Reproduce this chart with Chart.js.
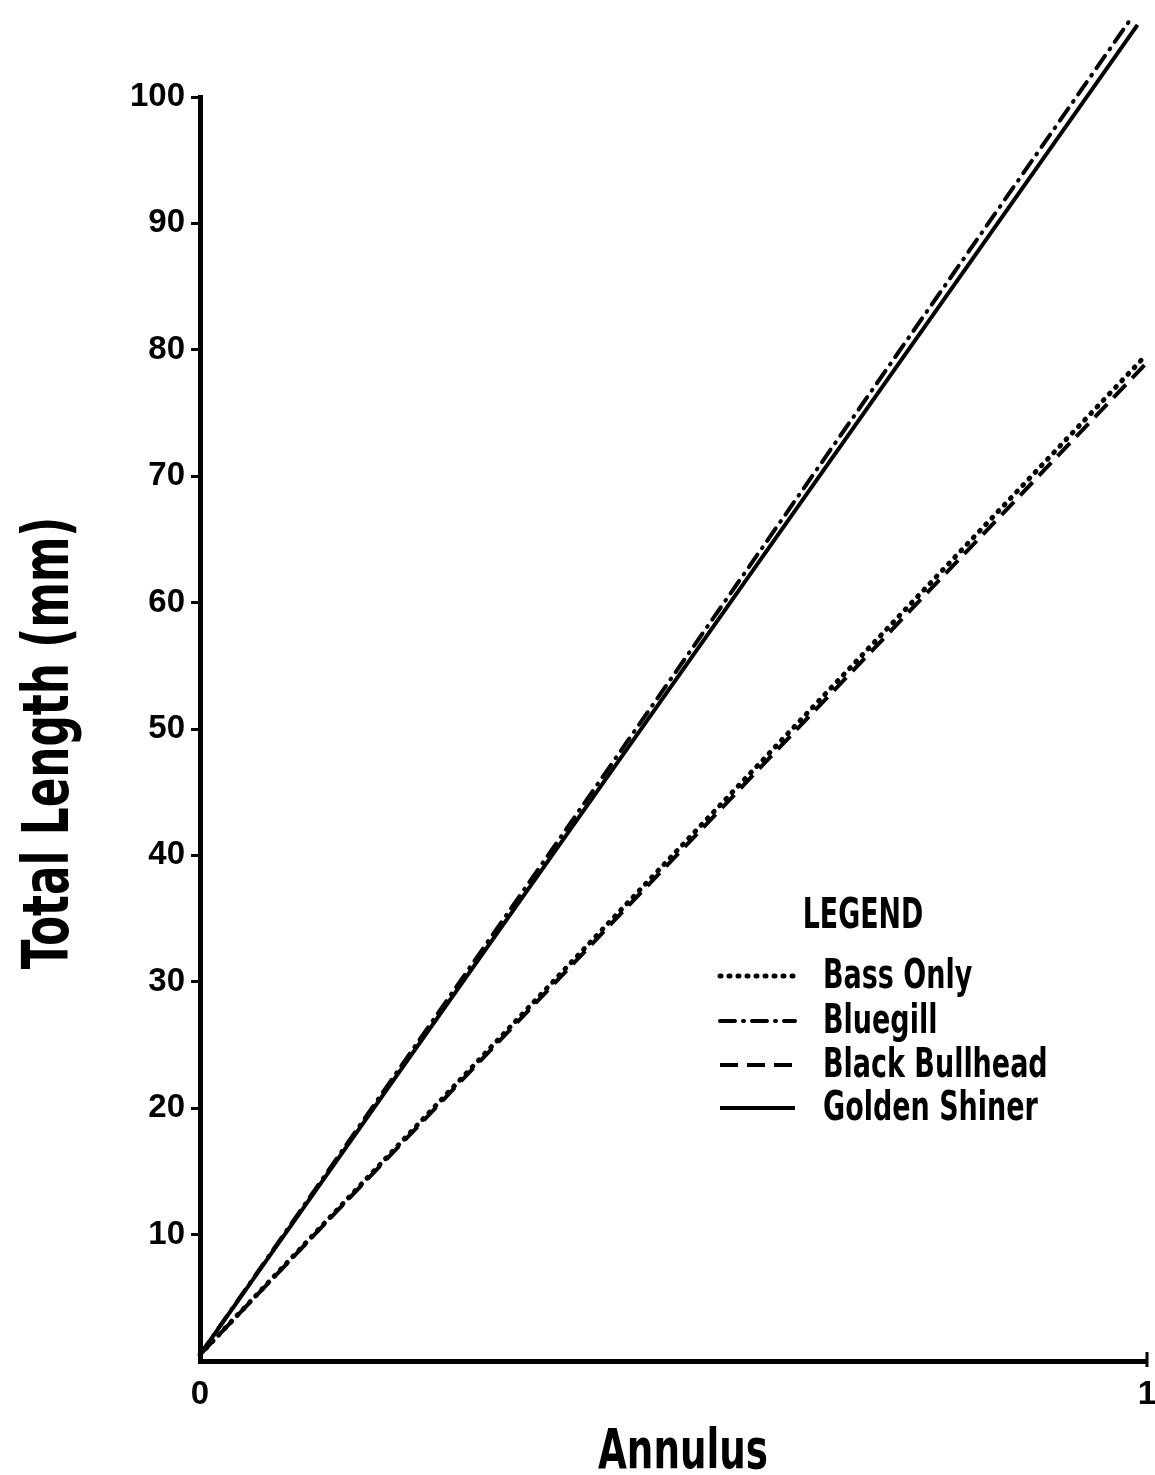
<!DOCTYPE html>
<html>
<head>
<meta charset="utf-8">
<script src="https://cdn.jsdelivr.net/npm/chart.js@4/dist/chart.umd.min.js"></script>
<style>
  html, body { margin: 0; padding: 0; background: #fff; }
  #wrap { width: 1155px; height: 1475px; }
</style>
</head>
<body>
<div id="wrap"><canvas id="c" width="1155" height="1475"></canvas></div>
<script>
// Back-calculated growth: total length (mm) at the first annulus, by forage
const seriesNames = ['Bass Only', 'Bluegill', 'Black Bullhead', 'Golden Shiner'];
const annulusX = {
  'Bass Only':      [0, 0.998],
  'Bluegill':       [0, 0.984],
  'Black Bullhead': [0, 1.0],
  'Golden Shiner':  [0, 0.990]
};
const totalLength = {
  'Bass Only':      [0.5, 79.5],
  'Bluegill':       [0.5, 106.3],
  'Black Bullhead': [0.5, 79.0],
  'Golden Shiner':  [0.5, 105.7]
};
const xTicks = [0, 1];
const yTicks = [10, 20, 30, 40, 50, 60, 70, 80, 90, 100];

const dashes = {
  'Bass Only':      [1, 8],
  'Bluegill':       [15, 8, 1, 8],
  'Black Bullhead': [18, 9],
  'Golden Shiner':  []
};

const condensed = "'Liberation Sans Narrow', 'DejaVu Sans Condensed', 'Liberation Sans', sans-serif";
const tickFont = "'Liberation Sans', Arial, sans-serif";

const datasets = seriesNames.map(name => ({
  label: name,
  data: annulusX[name].map((x, i) => ({ x: x, y: totalLength[name][i] })),
  borderColor: '#000',
  borderWidth: name === 'Bass Only' ? 5 : 4,
  borderDash: dashes[name],
  borderCapStyle: name === 'Bass Only' || name === 'Bluegill' ? 'round' : 'butt',
  pointRadius: 0,
  fill: false,
  tension: 0,
  clip: false
}));

// Draws a string squeezed horizontally so it reads like a condensed face
function condensedText(ctx, text, x, y, size, squeeze, align, rotate) {
  ctx.save();
  ctx.translate(x, y);
  if (rotate) ctx.rotate(rotate);
  ctx.scale(squeeze, 1);
  ctx.font = 'bold ' + size + 'px ' + condensed;
  ctx.fillStyle = '#000';
  ctx.textAlign = align;
  ctx.textBaseline = 'alphabetic';
  ctx.fillText(text, 0, 0);
  ctx.restore();
}

const annotations = {
  id: 'annotations',
  afterDraw(chart) {
    const ctx = chart.ctx;
    const area = chart.chartArea;

    // axis titles
    condensedText(ctx, 'Annulus', 683, 1468, 56, 0.74, 'center', 0);
    condensedText(ctx, 'Total Length (mm)', 68, 743, 64, 0.76, 'center', -Math.PI / 2);

    // end tick on the x axis
    const xs = chart.scales.x;
    const x1 = xs.getPixelForValue(1);
    ctx.save();
    ctx.strokeStyle = '#000';
    ctx.lineWidth = 3;
    ctx.beginPath();
    ctx.moveTo(x1, area.bottom - 9);
    ctx.lineTo(x1, area.bottom + 6);
    ctx.stroke();
    ctx.restore();

    // legend block
    condensedText(ctx, 'LEGEND', 863, 928, 42, 0.71, 'center', 0);
    const rows = [976, 1021, 1065, 1108];
    chart.data.datasets.forEach((ds, i) => {
      const y = rows[i];
      ctx.save();
      ctx.strokeStyle = '#000';
      ctx.lineWidth = ds.borderWidth;
      ctx.lineCap = ds.borderCapStyle;
      ctx.setLineDash(ds.borderDash);
      ctx.beginPath();
      ctx.moveTo(720, y);
      ctx.lineTo(795, y);
      ctx.stroke();
      ctx.restore();
      condensedText(ctx, ds.label, 823, y + 12, 40, 0.75, 'left', 0);
    });
  }
};

new Chart(document.getElementById('c'), {
  type: 'line',
  data: { datasets: datasets },
  options: {
    responsive: false,
    animation: false,
    devicePixelRatio: 1,
    layout: { padding: { top: 97, right: 8, left: 0, bottom: 0 } },
    plugins: { legend: { display: false }, tooltip: { enabled: false } },
    scales: {
      x: {
        type: 'linear',
        min: 0,
        max: 1,
        afterBuildTicks(scale) { scale.ticks = xTicks.map(v => ({ value: v })); },
        afterFit(scale) { scale.height = 114; scale.paddingLeft = 0; scale.paddingRight = 0; },
        grid: { display: true, drawOnChartArea: false, drawTicks: false },
        border: { display: true, color: '#000', width: 5 },
        ticks: {
          padding: 14,
          color: '#000',
          font: { family: tickFont, weight: 'bold', size: 33 },
          callback: v => String(v)
        }
      },
      y: {
        type: 'linear',
        min: 0,
        max: 100,
        afterBuildTicks(scale) { scale.ticks = yTicks.map(v => ({ value: v })); },
        afterFit(scale) { scale.width = 200; },
        grid: { display: true, drawOnChartArea: false, drawTicks: true, tickLength: 9, tickWidth: 3, tickColor: '#000', color: '#000' },
        border: { display: true, color: '#000', width: 5 },
        ticks: {
          padding: 6,
          color: '#000',
          font: { family: tickFont, weight: 'bold', size: 33 },
          callback: v => String(v)
        }
      }
    }
  },
  plugins: [annotations]
});
</script>
</body>
</html>
